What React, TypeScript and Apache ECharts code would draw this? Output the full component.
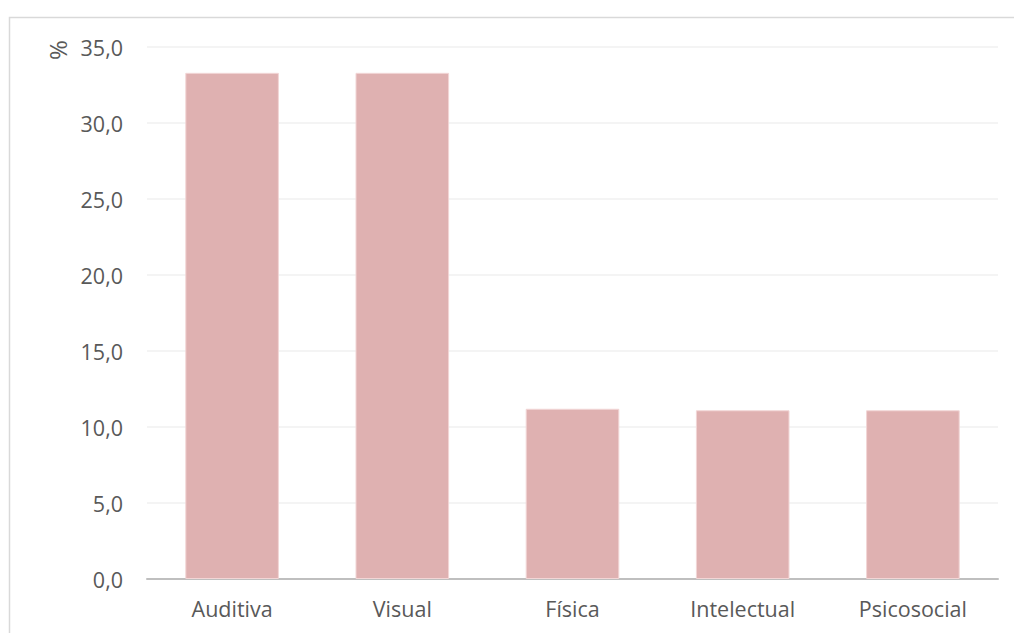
import React, { useEffect, useRef } from "react";
import * as echarts from "echarts";

const categories = ["Auditiva", "Visual", "Física", "Intelectual", "Psicosocial"];
const values = [33.3, 33.3, 11.2, 11.1, 11.1];
const yUnit = "%";

export default function App() {
  const ref = useRef<HTMLDivElement>(null);
  useEffect(() => {
    document.body.style.margin = "0";
    const chart = echarts.init(ref.current!, null, { renderer: "svg" });
    chart.setOption({
      animation: false,
      backgroundColor: "#ffffff",
      textStyle: { fontFamily: "Open Sans" },
      grid: { left: 147, right: 16, top: 47, bottom: 54 },
      graphic: [
        {
          type: "rect",
          shape: { x: 9.5, y: 17.5, width: 1010, height: 700 },
          style: { fill: "none", stroke: "#d9d9d9", lineWidth: 1.5 },
          silent: true,
        },
        {
          type: "text",
          x: 57,
          y: 50,
          rotation: Math.PI / 2,
          style: {
            text: yUnit,
            fill: "#595959",
            font: "normal 24px 'Open Sans'",
            align: "center",
            verticalAlign: "middle",
          },
        },
      ],
      xAxis: {
        type: "category",
        data: categories,
        axisLine: { lineStyle: { color: "#bfbfbf", width: 2 } },
        axisTick: { show: false },
        axisLabel: { color: "#595959", fontSize: 21.5, margin: 18 },
      },
      yAxis: {
        type: "value",
        min: 0,
        max: 35,
        interval: 5,
        axisLine: { show: false },
        axisTick: { show: false },
        splitLine: { lineStyle: { color: "#f0f0f0", width: 1.5 } },
        axisLabel: {
          color: "#595959",
          fontSize: 21.5,
          margin: 24,
          formatter: (v: number) => v.toFixed(1).replace(".", ","),
        },
      },
      series: [
        {
          type: "bar",
          data: values,
          barWidth: "55%",
          itemStyle: { color: "#dfb1b1", borderColor: "#f2d6d6", borderWidth: 1 },
        },
      ],
    });
    return () => chart.dispose();
  }, []);
  return <div ref={ref} style={{ width: 1014, height: 633 }} />;
}
